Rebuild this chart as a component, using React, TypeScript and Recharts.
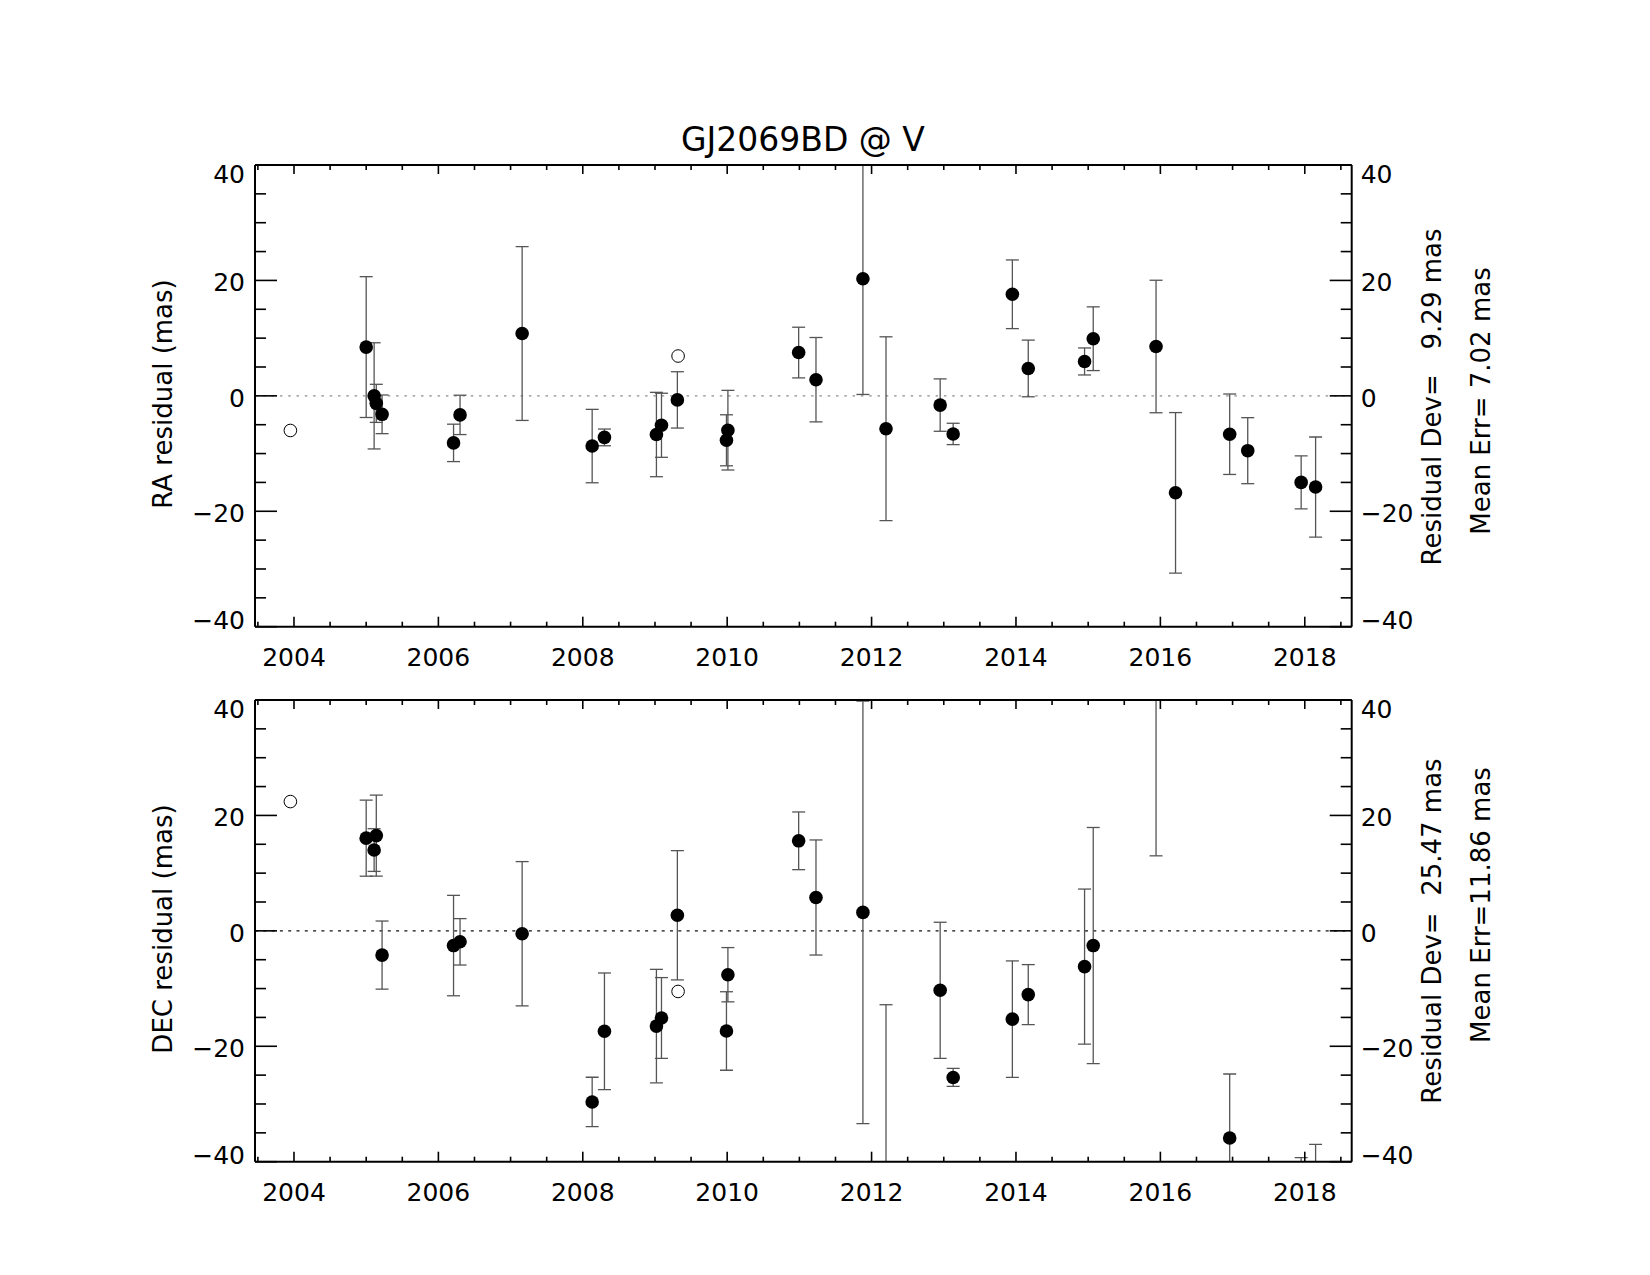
import React from 'react';
import {
  ScatterChart,
  Scatter,
  XAxis,
  YAxis,
  ErrorBar,
  ReferenceLine,
} from 'recharts';

const FONT = '"DejaVu Sans", "Liberation Sans", sans-serif';

// epochs of the frames used in the fit (decimal year)
const epochs = [
  2005.0, 2005.11, 2005.14, 2005.22, 2006.21, 2006.3, 2007.16, 2008.13,
  2008.3, 2009.02, 2009.09, 2009.31, 2009.99, 2010.01, 2010.99, 2011.23,
  2011.88, 2012.2, 2012.95, 2013.13, 2013.95, 2014.17, 2014.95, 2015.07,
  2015.94, 2016.21, 2016.96, 2017.21, 2017.95, 2018.15,
];

// RA residuals and errors (mas)
const raResid = [
  8.45, 0.0, -1.3, -3.2, -8.15, -3.3, 10.8, -8.7, -7.2, -6.7, -5.1, -0.7,
  -7.7, -5.95, 7.5, 2.8, 20.3, -5.7, -1.6, -6.6, 17.6, 4.75, 5.96, 9.9, 8.55,
  -16.8, -6.65, -9.5, -15.0, -15.8,
];
const raErr = [
  12.2, 9.2, 3.3, 3.35, 3.24, 3.41, 15.06, 6.36, 1.45, 7.31, 5.55, 4.88, 4.42,
  6.9, 4.39, 7.31, 20.06, 15.93, 4.54, 1.85, 5.95, 4.91, 2.34, 5.52, 11.48,
  13.9, 6.97, 5.72, 4.6, 8.67,
];

// DEC residuals and errors (mas)
const decResid = [
  16.06, 14.0, 16.5, -4.2, -2.55, -1.9, -0.5, -29.65, -17.4, -16.5, -15.1, 2.7,
  -17.35, -7.6, 15.6, 5.78, 3.2, -45.0, -10.3, -25.4, -15.3, -11.05, -6.2,
  -2.55, 48.0, -70.0, -35.9, -47.2, -45.0, -48.0,
];
const decErr = [
  6.59, 3.7, 7.02, 5.9, 8.7, 4.02, 12.5, 4.28, 10.1, 9.83, 7.0, 11.2, 6.8, 4.7,
  5.0, 9.97, 36.6, 32.2, 11.79, 1.56, 10.09, 5.2, 13.44, 20.46, 35.0, 14.0,
  11.1, 7.2, 5.7, 11.0,
];

// frames rejected from the fit (open circles)
const rejEpochs = [2003.95, 2009.32];
const rejRa = [-6.0, 6.9];
const rejDec = [22.4, -10.5];

const yearLabels = [2004, 2006, 2008, 2010, 2012, 2014, 2016, 2018];
const xTicks = [
  2003.5, 2004, 2004.5, 2005, 2005.5, 2006, 2006.5, 2007, 2007.5, 2008,
  2008.5, 2009, 2009.5, 2010, 2010.5, 2011, 2011.5, 2012, 2012.5, 2013,
  2013.5, 2014, 2014.5, 2015, 2015.5, 2016, 2016.5, 2017, 2017.5, 2018,
  2018.5,
];
const yLabels = [-40, -20, 0, 20, 40];
const yTicks = [-40, -35, -30, -25, -20, -15, -10, -5, 0, 5, 10, 15, 20, 25, 30, 35, 40];

const xDomain: [number, number] = [2003.46, 2018.65];
const yDomain: [number, number] = [-40, 40];

// plot box inside each 1650x700 panel
const PLOT = { left: 255, top: 165, width: 1096.7, height: 461.7 };
const CLIP_ID = 'plot-box';

const fmt = (v: number) => (v < 0 ? `\u2212${Math.abs(v)}` : String(v));
// IDL nudges the end labels inside the box
const labelShift = (v: number) => (v === 40 ? 9 : v === -40 ? -7 : 2);

const BottomTick = (p: any) => {
  const v = p.payload.value;
  const major = yearLabels.includes(v);
  return (
    <g>
      <line x1={p.x} x2={p.x} y1={p.y} y2={p.y - (major ? 10 : 5)} stroke="#000" strokeWidth={1.6} />
      {major && (
        <text x={p.x} y={p.y + 39} textAnchor="middle" fontSize={25} fontFamily={FONT} fill="#000">
          {v}
        </text>
      )}
    </g>
  );
};

const TopTick = (p: any) => {
  const major = yearLabels.includes(p.payload.value);
  return <line x1={p.x} x2={p.x} y1={p.y} y2={p.y + (major ? 9 : 5)} stroke="#000" strokeWidth={1.6} />;
};

const LeftTick = (p: any) => {
  const v = p.payload.value;
  const major = yLabels.includes(v);
  return (
    <g>
      <line x1={p.x} x2={p.x + (major ? 22 : 11)} y1={p.y} y2={p.y} stroke="#000" strokeWidth={1.6} />
      {major && (
        <text x={p.x - 10} y={p.y + labelShift(v)} dy="0.36em" textAnchor="end" fontSize={25} fontFamily={FONT} fill="#000">
          {fmt(v)}
        </text>
      )}
    </g>
  );
};

const RightTick = (p: any) => {
  const v = p.payload.value;
  const major = yLabels.includes(v);
  return (
    <g>
      <line x1={p.x} x2={p.x - (major ? 22 : 11)} y1={p.y} y2={p.y} stroke="#000" strokeWidth={1.6} />
      {major && (
        <text x={p.x + 9} y={p.y + labelShift(v)} dy="0.36em" textAnchor="start" fontSize={25} fontFamily={FONT} fill="#000">
          {fmt(v)}
        </text>
      )}
    </g>
  );
};

const FilledDot = (p: any) => <circle cx={p.cx} cy={p.cy} r={6.8} fill="#000" />;
const OpenDot = (p: any) => <circle cx={p.cx} cy={p.cy} r={6.3} fill="#fff" stroke="#000" strokeWidth={1} />;

interface PanelProps {
  top: number;
  resid: number[];
  err: number[];
  rejResid: number[];
  yLabel: string;
  devText: string;
  errText: string;
  devY: number;
  errY: number;
  zeroStroke: string;
  zeroDash: string;
  title?: string;
}

const Panel = ({ top, resid, err, rejResid, yLabel, devText, errText, devY, errY, zeroStroke, zeroDash, title }: PanelProps) => {
  const fitted = epochs.map((x, i) => ({ x, y: resid[i], err: err[i] }));
  const rejected = rejEpochs.map((x, i) => ({ x, y: rejResid[i] }));
  const axisLine = { stroke: '#000', strokeWidth: 2 };
  return (
    <div style={{ position: 'absolute', left: 0, top, width: 1650, height: 700 }}>
      <ScatterChart width={1650} height={700} margin={{ top: 155, right: 238.3, bottom: 23.3, left: 195 }}>
        <XAxis
          xAxisId="b"
          type="number"
          dataKey="x"
          domain={xDomain}
          allowDataOverflow
          ticks={xTicks}
          interval={0}
          height={50}
          tickSize={0}
          tickMargin={0}
          tickLine={false}
          tick={BottomTick}
          axisLine={axisLine}
        />
        <XAxis
          xAxisId="t"
          orientation="top"
          type="number"
          dataKey="x"
          domain={xDomain}
          allowDataOverflow
          ticks={xTicks}
          interval={0}
          height={10}
          tickSize={0}
          tickMargin={0}
          tickLine={false}
          tick={TopTick}
          axisLine={axisLine}
        />
        <YAxis
          yAxisId="l"
          type="number"
          domain={yDomain}
          allowDataOverflow
          ticks={yTicks}
          interval={0}
          width={60}
          tickSize={0}
          tickMargin={0}
          tickLine={false}
          tick={LeftTick}
          axisLine={axisLine}
        />
        <YAxis
          yAxisId="r"
          orientation="right"
          type="number"
          domain={yDomain}
          allowDataOverflow
          ticks={yTicks}
          interval={0}
          width={60}
          tickSize={0}
          tickMargin={0}
          tickLine={false}
          tick={RightTick}
          axisLine={axisLine}
        />
        <ReferenceLine xAxisId="b" yAxisId="l" y={0} stroke={zeroStroke} strokeWidth={1.2} strokeDasharray={zeroDash} />
        <Scatter xAxisId="b" yAxisId="l" data={fitted} dataKey="y" shape={FilledDot} isAnimationActive={false}>
          <ErrorBar
            dataKey="err"
            direction="y"
            width={6.5}
            stroke="#555"
            strokeWidth={1.3}
            clipPath={`url(#${CLIP_ID})`}
            isAnimationActive={false}
          />
        </Scatter>
        <Scatter xAxisId="b" yAxisId="l" data={rejected} dataKey="y" shape={OpenDot} isAnimationActive={false} />
      </ScatterChart>
      <svg width={1650} height={700} style={{ position: 'absolute', left: 0, top: 0, pointerEvents: 'none' }}>
        {title && (
          <>
            <defs>
              <clipPath id={CLIP_ID}>
                <rect x={PLOT.left} y={PLOT.top} width={PLOT.width} height={PLOT.height} />
              </clipPath>
            </defs>
            <text x={803} y={151} textAnchor="middle" fontSize={33} fontFamily={FONT} fill="#000">
              {title}
            </text>
          </>
        )}
        <text transform="translate(172,394) rotate(-90)" textAnchor="middle" fontSize={26} fontFamily={FONT} fill="#000">
          {yLabel}
        </text>
        <text transform={`translate(1441,${devY}) rotate(-90)`} textAnchor="middle" fontSize={26} fontFamily={FONT} fill="#000" style={{ whiteSpace: 'pre' }}>
          {devText}
        </text>
        <text transform={`translate(1490,${errY}) rotate(-90)`} textAnchor="middle" fontSize={26} fontFamily={FONT} fill="#000" style={{ whiteSpace: 'pre' }}>
          {errText}
        </text>
      </svg>
    </div>
  );
};

export default function App() {
  return (
    <div style={{ position: 'absolute', left: 0, top: 0, width: 1650, height: 1275, background: '#fff' }}>
      <Panel
        top={0}
        resid={raResid}
        err={raErr}
        rejResid={rejRa}
        yLabel="RA residual (mas)"
        devText="Residual Dev=   9.29 mas"
        errText="Mean Err= 7.02 mas"
        devY={397}
        errY={401}
        zeroStroke="#8c8c8c"
        zeroDash="2.5 5.8"
        title="GJ2069BD @ V"
      />
      <Panel
        top={535}
        resid={decResid}
        err={decErr}
        rejResid={rejDec}
        yLabel="DEC residual (mas)"
        devText="Residual Dev=  25.47 mas"
        errText="Mean Err=11.86 mas"
        devY={396}
        errY={370}
        zeroStroke="#111"
        zeroDash="3 5.3"
      />
    </div>
  );
}
